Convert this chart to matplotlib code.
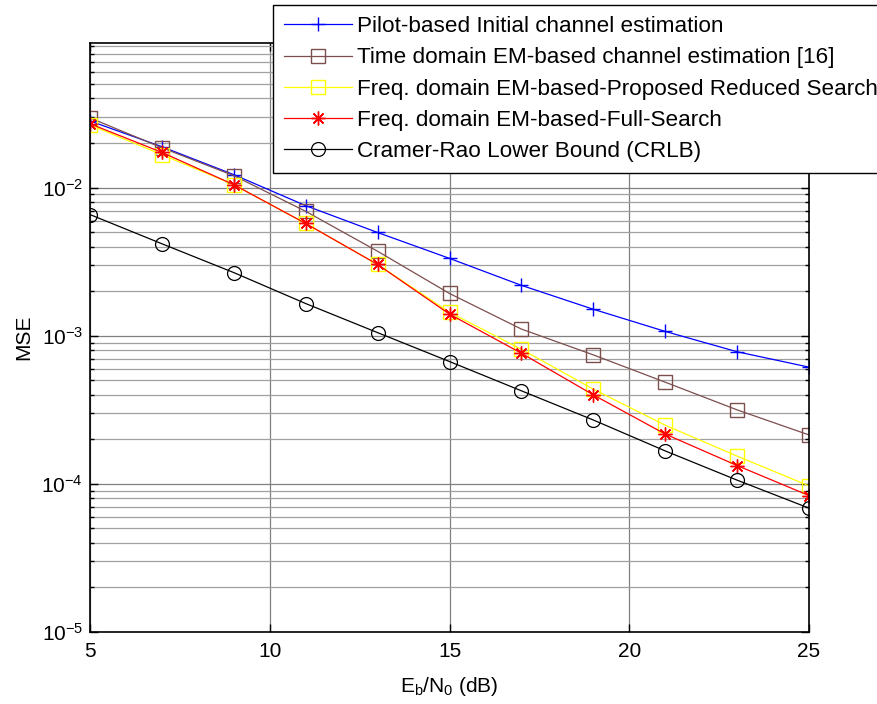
import matplotlib
matplotlib.use("Agg")
import matplotlib.pyplot as plt
import numpy as np
from matplotlib.ticker import LogLocator, FixedLocator

plt.rcParams['font.family'] = ['Liberation Sans', 'DejaVu Sans']
plt.rcParams['mathtext.fontset'] = 'custom'
plt.rcParams['mathtext.rm'] = 'Liberation Sans'
plt.rcParams['mathtext.default'] = 'regular'

ebn0 = [5, 7, 9, 11, 13, 15, 17, 19, 21, 23, 25]
pilot = [0.0282, 0.0189, 0.01224, 0.00756, 0.00498, 0.00333, 0.00219, 0.00151, 0.00107, 0.00078, 0.000614]
time_em = [0.0296, 0.0186, 0.01205, 0.00692, 0.00372, 0.00193, 0.00111, 0.000743, 0.000486, 0.000316, 0.000214]
freq_reduced = [0.0265, 0.0167, 0.01047, 0.00573, 0.00303, 0.00144, 0.000811, 0.000436, 0.000249, 0.000154, 0.000097]
freq_full = [0.0270, 0.0173, 0.01047, 0.00573, 0.00303, 0.00140, 0.000762, 0.000399, 0.000217, 0.000133, 0.0000834]
crlb = [0.00658, 0.00418, 0.00267, 0.00165, 0.00105, 0.00067, 0.000425, 0.00027, 0.000167, 0.000106, 0.0000686]

labels = ['Pilot-based Initial channel estimation',
          'Time domain EM-based channel estimation [16]',
          'Freq. domain EM-based-Proposed Reduced Search',
          'Freq. domain EM-based-Full-Search',
          'Cramer-Rao Lower Bound (CRLB)']
xticks = [5, 10, 15, 20, 25]

fig = plt.figure(figsize=(8.77, 7.04), dpi=100)
ax = fig.add_axes([90/877, 1-632/704, (809-90)/877, (632-42.7)/704])

lw = 0.9
ax.plot(ebn0, pilot, color='#0000ff', marker='+', ms=10, mew=1.0, lw=lw, label=labels[0])
ax.plot(ebn0, time_em, color='#7d4e4e', marker='s', ms=10, mfc='none', mew=1.0, lw=lw, label=labels[1])
ax.plot(ebn0, freq_reduced, color='#ffff00', marker='s', ms=10, mfc='none', mew=1.0, lw=lw, label=labels[2])
ax.plot(ebn0, freq_full, color='#ff0000', marker=(8, 2, 0), ms=10, mew=1.0, lw=lw, label=labels[3])
ax.plot(ebn0, crlb, color='#000000', marker='o', ms=10, mfc='none', mew=0.9, lw=lw, label=labels[4])

ax.set_yscale('log')
ax.set_xlim(5, 25)
ax.set_ylim(1e-5, 0.0952)
ax.xaxis.set_major_locator(FixedLocator(xticks))
ax.yaxis.set_major_locator(LogLocator(base=10, numticks=10))
ax.yaxis.set_minor_locator(LogLocator(base=10, subs=np.arange(2, 10), numticks=20))
ax.yaxis.set_minor_formatter(plt.NullFormatter())

ax.grid(True, which='major', axis='both', color='#808080', lw=0.9)
ax.grid(True, which='minor', axis='y', color='#a0a0a0', lw=0.9)
ax.set_axisbelow(True)

ax.tick_params(which='both', direction='in', top=True, right=True, labelsize=15)
ax.tick_params(axis='x', which='major', pad=7.5)
ax.tick_params(axis='y', which='major', pad=5)
ax.tick_params(which='major', length=6, width=1)
ax.tick_params(which='minor', length=3, width=1)
for s in ax.spines.values():
    s.set_linewidth(1.2)

ax.set_xlabel(r'E$_b$/N$_0$ (dB)', fontsize=15)
ax.set_ylabel('MSE', fontsize=15)
ax.xaxis.set_label_coords(0.5, -0.073)
ax.yaxis.set_label_coords(-0.079, 0.5)

leg = fig.legend(loc='upper left', bbox_to_anchor=(273/877, 1-5/704), bbox_transform=fig.transFigure,
                 fontsize=16.2, frameon=True, fancybox=False, edgecolor='black', framealpha=1,
                 handlelength=3.0, handletextpad=0.25, labelspacing=0.45, borderpad=0.5, borderaxespad=0)
leg.get_frame().set_linewidth(1.0)

fig.savefig('out.png', dpi=100)
